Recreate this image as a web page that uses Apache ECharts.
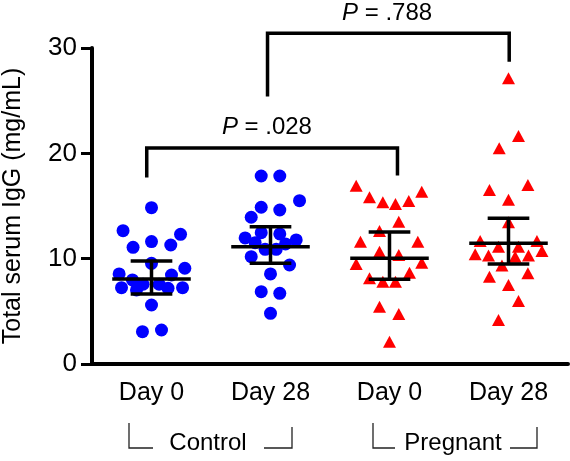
<!DOCTYPE html>
<html><head><meta charset="utf-8">
<script src="https://cdn.jsdelivr.net/npm/echarts@6/dist/echarts.min.js"></script>
<style>html,body{margin:0;padding:0;background:#fff}#c{width:570px;height:461px}</style>
</head><body><div id="c"></div>
<script>
const FONT = '"Liberation Sans", Arial, Helvetica, sans-serif';
const categories = ['Day 0', 'Day 28', 'Day 0', 'Day 28'];
const groupLabels = ['Control', 'Pregnant'];
const yTicks = [0, 10, 20, 30];

// Control Day 0 (blue circles)
const ctrlD0X = [1.00,0.761,1.244,1.00,0.845,1.162,1.00,0.728,1.280,1.168,0.840,0.748,0.929,1.064,0.874,1.139,1.261,1.00,0.924,1.084];
const ctrlD0Y = [14.84,12.66,12.31,11.62,11.08,11.30,9.56,8.55,9.09,8.45,7.98,7.25,7.57,7.57,7.03,7.19,7.25,5.60,3.07,3.23];
// Control Day 28 (blue circles)
const ctrlD28X = [1.922,2.078,2.244,1.922,2.078,1.838,1.922,2.078,1.787,2.216,1.871,2.126,1.955,2.048,1.838,2.160,2.00,1.922,2.078,2.00];
const ctrlD28Y = [17.85,17.85,15.51,14.88,14.62,13.93,12.47,12.35,11.97,11.78,11.52,11.40,10.89,10.89,10.19,9.40,8.55,6.87,6.71,4.81];
// Pregnant Day 0 (red triangles)
const pregD0X = [2.720,3.271,2.832,2.944,3.050,3.162,3.078,2.916,2.756,3.238,2.916,3.078,2.720,3.271,3.168,2.832,2.944,3.050,2.916,3.078,3.00];
const pregD0Y = [16.93,16.36,15.83,15.36,15.19,15.48,13.51,12.63,11.61,11.61,10.66,10.35,9.50,9.62,8.67,8.14,7.82,7.82,5.44,4.75,2.12];
// Pregnant Day 28 (red triangles)
const pregD28X = [4.00,4.084,3.922,4.163,3.840,4.00,4.00,3.762,4.239,3.916,4.084,3.720,3.832,4.056,4.168,4.281,3.945,3.840,4.163,4.00,4.084,3.916];
const pregD28Y = [27.13,21.65,20.48,17.0,16.52,15.6,13.45,11.68,11.68,11.14,11.14,10.42,10.29,10.19,10.29,10.73,9.34,8.29,8.61,7.50,5.98,4.18];

// Central line and error bar per group
const centerVals = [8.07, 11.14, 10.04, 11.46];
const errLow = [6.65, 9.56, 8.04, 9.50];
const errHigh = [9.78, 13.04, 12.54, 13.84];

// Significance brackets
const bracket1X = [0.96, 0.96, 3.067, 3.067];
const bracket1Y = [17.7, 20.5, 20.5, 17.9];
const bracket2X = [1.975, 1.975, 4.006, 4.006];
const bracket2Y = [25.4, 31.4, 31.4, 28.7];
const pValues = ['.028', '.788'];
const pLabelX = [1.97, 2.98];
const pLabelY = [22.5, 33.3];

const zip = (xs, ys) => xs.map((x, i) => [x, ys[i]]);

const chart = echarts.init(document.getElementById('c'), null, {renderer: 'canvas'});

const option = {
  animation: false,
  backgroundColor: '#fff',
  grid: {left: 92, right: 2, top: 48, bottom: 97, containLabel: false, outerBoundsMode: 'none'},
  xAxis: [
    {
      type: 'category', data: categories, boundaryGap: true,
      axisLine: {lineStyle: {color: '#000', width: 4}},
      axisTick: {alignWithLabel: true, length: 11, lineStyle: {color: '#000', width: 3}},
      axisLabel: {color: '#000', fontSize: 25, fontFamily: FONT, margin: 17},
      splitLine: {show: false}
    },
    {
      type: 'value', min: 0.5, max: 4.5, show: false
    }
  ],
  yAxis: {
    type: 'value', min: 0, max: 30, interval: 10,
    name: 'Total serum IgG (mg/mL)', nameLocation: 'middle', nameGap: 66,
    nameTextStyle: {color: '#000', fontSize: 25, fontFamily: FONT},
    axisLine: {show: true, lineStyle: {color: '#000', width: 4}},
    axisTick: {show: true, length: 11, lineStyle: {color: '#000', width: 3}},
    axisLabel: {color: '#000', fontSize: 26, fontFamily: FONT, margin: 15,
      formatter: v => (yTicks.indexOf(v) >= 0 ? String(v) : '')},
    splitLine: {show: false}
  },
  series: [
    {type: 'scatter', xAxisIndex: 1, data: zip(ctrlD0X, ctrlD0Y), symbol: 'circle', symbolSize: 13, itemStyle: {color: '#0000ff', opacity: 1}},
    {type: 'scatter', xAxisIndex: 1, data: zip(ctrlD28X, ctrlD28Y), symbol: 'circle', symbolSize: 13, itemStyle: {color: '#0000ff', opacity: 1}},
    {type: 'scatter', xAxisIndex: 1, data: zip(pregD0X, pregD0Y), symbol: 'triangle', symbolSize: [13, 12], itemStyle: {color: '#ff0000', opacity: 1}},
    {type: 'scatter', xAxisIndex: 1, data: zip(pregD28X, pregD28Y), symbol: 'triangle', symbolSize: [13, 12], itemStyle: {color: '#ff0000', opacity: 1}},
    {
      type: 'custom', xAxisIndex: 1, z: 10,
      data: centerVals.map((m, i) => [i + 1, m, errLow[i], errHigh[i]]),
      renderItem: function (params, api) {
        const x = api.value(0);
        const pM = api.coord([x, api.value(1)]);
        const pLo = api.coord([x, api.value(2)]);
        const pHi = api.coord([x, api.value(3)]);
        const unit = api.size([1, 0])[0];
        const hw = 0.33 * unit, cw = 0.175 * unit;
        const st = {stroke: '#000', lineWidth: 3.5};
        return {type: 'group', children: [
          {type: 'line', shape: {x1: pM[0] - hw, y1: pM[1], x2: pM[0] + hw, y2: pM[1]}, style: st},
          {type: 'line', shape: {x1: pM[0], y1: pLo[1], x2: pM[0], y2: pHi[1]}, style: st},
          {type: 'line', shape: {x1: pM[0] - cw, y1: pLo[1], x2: pM[0] + cw, y2: pLo[1]}, style: st},
          {type: 'line', shape: {x1: pM[0] - cw, y1: pHi[1], x2: pM[0] + cw, y2: pHi[1]}, style: st}
        ]};
      }
    },
    {type: 'line', xAxisIndex: 1, data: zip(bracket1X, bracket1Y), symbol: 'none', clip: false,
      lineStyle: {color: '#000', width: 3.5, join: 'miter', cap: 'butt'}, z: 5},
    {type: 'line', xAxisIndex: 1, data: zip(bracket2X, bracket2Y), symbol: 'none', clip: false,
      lineStyle: {color: '#000', width: 3.5, join: 'miter', cap: 'butt'}, z: 5}
  ]
};
chart.setOption(option);

// Annotations placed through the chart's own coordinate conversion
const toPx = (x, y) => chart.convertToPixel({xAxisIndex: 1, yAxisIndex: 0}, [x, y]);
const gfx = [];
pValues.forEach((p, i) => {
  const pt = toPx(pLabelX[i], pLabelY[i]);
  gfx.push({type: 'text', x: pt[0], y: pt[1], z: 20, style: {
    text: '{i|P} = ' + p, fill: '#000', fontSize: 24, fontFamily: FONT,
    align: 'center', verticalAlign: 'middle',
    rich: {i: {fontStyle: 'italic', fontSize: 24, fontFamily: FONT, fill: '#000'}}
  }});
});
// group labels with corner brackets
const groupCenters = [(toPx(1, 0)[0] + toPx(2, 0)[0]) / 2 - 3, (toPx(3, 0)[0] + toPx(4, 0)[0]) / 2 + 4];
const bracketOff = [[-79, -55, 56, 84], [-80, -58, 57, 84]];
const labelY = 443;
groupLabels.forEach((g, i) => {
  const c = groupCenters[i];
  const o = bracketOff[i];
  gfx.push({type: 'text', x: c, y: labelY, style: {text: g, fill: '#000', fontSize: 24, fontFamily: FONT, align: 'center', verticalAlign: 'middle'}});
  gfx.push({type: 'polyline', shape: {points: [[c + o[0], 423], [c + o[0], 448], [c + o[1], 448]]}, style: {stroke: '#222', lineWidth: 1.3, fill: null}});
  gfx.push({type: 'polyline', shape: {points: [[c + o[2], 448], [c + o[3], 448], [c + o[3], 427]]}, style: {stroke: '#222', lineWidth: 1.3, fill: null}});
});
chart.setOption({graphic: gfx});
</script>
</body></html>
